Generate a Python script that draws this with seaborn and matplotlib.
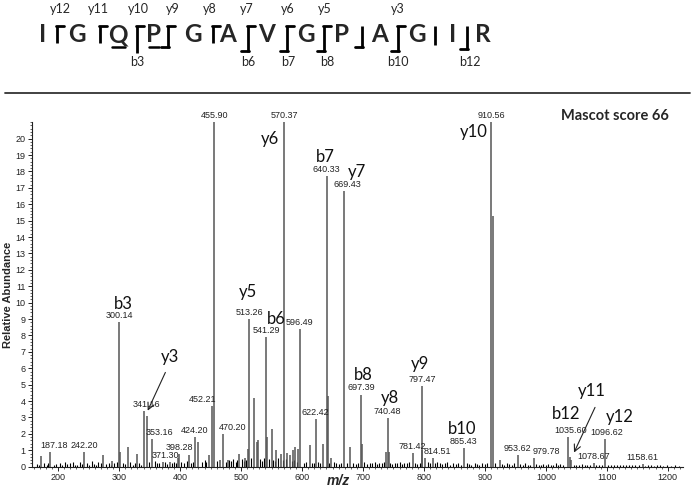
import numpy as np
import pandas as pd
import seaborn as sns
import matplotlib
matplotlib.use("Agg")
import matplotlib.pyplot as plt
from matplotlib.ticker import MultipleLocator

# ---------------- data ----------------
peak_mz = [172, 187.18, 242.20, 274, 289, 300.14, 302, 314.5, 329, 341.16, 345, 353.16,
           371.30, 383, 396, 398.28, 414, 424.20, 429, 447, 452.21, 455.90, 466, 470.20,
           478, 497, 506, 511.5, 513.26, 521.4, 525.8, 528, 541.29, 543, 550, 558, 565,
           570.37, 576, 580, 585, 589, 593, 596.49, 612.7, 622.42, 634.5, 640.33, 642,
           648, 669.43, 679.4, 697.39, 698.5, 737, 740.48, 742, 781.42, 796, 797.47, 802,
           814.51, 865.43, 910.56, 912.5, 924, 953.62, 979.78, 1035.60, 1039, 1042,
           1078.67, 1096.62, 1158.61]
peak_int = [0.65, 0.9, 0.9, 0.7, 0.35, 8.8, 0.9, 1.2, 0.8, 3.4, 3.1, 1.7,
            0.3, 0.3, 0.5, 0.75, 0.7, 1.8, 1.5, 0.7, 3.7, 21.0, 0.4, 2.0,
            0.4, 0.8, 0.5, 1.1, 9.0, 4.2, 1.5, 1.6, 7.9, 1.8, 2.3, 1.0, 0.8,
            21.0, 0.85, 0.7, 1.0, 1.2, 1.1, 8.4, 1.3, 2.9, 1.4, 17.7, 4.3,
            0.5, 16.8, 1.2, 4.4, 1.4, 0.9, 2.95, 0.9, 0.85, 1.0, 4.9, 0.5,
            0.5, 1.16, 21.0, 15.3, 0.4, 0.7, 0.5, 1.83, 0.6, 0.4,
            0.2, 1.67, 0.15]

noise_mz = [165, 168, 176, 181, 184, 193, 196, 203, 207, 211, 215, 219, 224, 228, 231,
            236, 239, 247, 251, 255, 258, 262, 266, 270, 279, 283, 286, 292, 296, 306,
            309, 318, 322, 326, 333, 336, 349, 358, 362, 366, 375, 379, 386, 390, 393,
            401, 407, 411, 418, 421, 436, 440, 443, 461, 476, 480, 484, 487, 491, 494,
            501, 504, 508, 517, 531, 535, 538, 546, 553, 556, 561, 568, 573, 583, 587,
            591, 603, 607, 616, 619, 627, 630, 644, 652, 656, 660, 664, 674, 684, 688,
            691, 702, 706, 711, 714, 719, 723, 727, 731, 735, 744, 748, 752, 756, 760,
            764, 768, 772, 776, 785, 789, 793, 806, 810, 818, 822, 826, 830, 834, 838,
            843, 848, 852, 856, 860, 870, 874, 878, 883, 887, 891, 895, 900, 904, 916,
            928, 932, 936, 940, 944, 948, 958, 962, 966, 970, 974, 984, 988, 992, 996,
            1000, 1004, 1008, 1012, 1016, 1020, 1024, 1028, 1046, 1050, 1055, 1060, 1064,
            1068, 1072, 1083, 1088, 1092, 1102, 1107, 1112, 1117, 1122, 1127, 1132, 1137,
            1142, 1147, 1152, 1163, 1168, 1173, 1178, 1183, 1188, 1193, 1198, 1205, 1212,
            1218]
noise_int = [0.15, 0.1, 0.2, 0.12, 0.25, 0.1, 0.18, 0.22, 0.1, 0.3, 0.15, 0.2, 0.28, 0.12, 0.1,
             0.3, 0.15, 0.2, 0.1, 0.35, 0.18, 0.12, 0.3, 0.2, 0.15, 0.25, 0.12, 0.2, 0.3, 0.25,
             0.15, 0.3, 0.12, 0.2, 0.25, 0.1, 0.3, 0.35, 0.2, 0.25, 0.3, 0.15, 0.25, 0.3, 0.2,
             0.3, 0.2, 0.35, 0.25, 0.3, 0.3, 0.4, 0.3, 0.35, 0.3, 0.4, 0.35, 0.45, 0.3, 0.4,
             0.45, 0.35, 0.4, 0.5, 0.45, 0.35, 0.5, 0.45, 0.4, 0.35, 0.5, 0.4, 0.45, 0.35, 0.4,
             0.3, 0.25, 0.3, 0.2, 0.25, 0.3, 0.2, 0.25, 0.3, 0.2, 0.15, 0.25, 0.2, 0.25, 0.15,
             0.2, 0.3, 0.15, 0.25, 0.2, 0.3, 0.15, 0.2, 0.25, 0.3, 0.2, 0.15, 0.25, 0.2, 0.3,
             0.15, 0.2, 0.25, 0.3, 0.2, 0.15, 0.25, 0.3, 0.2, 0.25, 0.3, 0.2, 0.15, 0.25, 0.3,
             0.1, 0.2, 0.15, 0.25, 0.1, 0.2, 0.15, 0.1, 0.2, 0.15, 0.1, 0.2, 0.15, 0.2, 0.25,
             0.15, 0.1, 0.2, 0.15, 0.1, 0.2, 0.15, 0.1, 0.2, 0.12, 0.1, 0.18, 0.12, 0.1, 0.15,
             0.1, 0.18, 0.1, 0.12, 0.2, 0.1, 0.15, 0.12, 0.1, 0.12, 0.1, 0.15, 0.1,
             0.08, 0.12, 0.1, 0.08, 0.12, 0.1, 0.08, 0.1, 0.12, 0.08, 0.1, 0.08, 0.1,
             0.08, 0.1, 0.08, 0.06, 0.1, 0.08, 0.06, 0.08, 0.1, 0.06, 0.08, 0.06, 0.08,
             0.06]

label_mz = [187.18, 242.20, 300.14, 341.16, 353.16, 371.30, 398.28, 424.20, 452.21, 455.90,
            470.20, 513.26, 541.29, 570.37, 596.49, 622.42, 640.33, 669.43, 697.39, 740.48,
            781.42, 797.47, 814.51, 865.43, 910.56, 953.62, 979.78, 1035.60, 1078.67,
            1096.62, 1158.61]
label_txt = ["187.18", "242.20", "300.14", "341.16", "353.16", "371.30", "398.28", "424.20",
             "452.21", "455.90", "470.20", "513.26", "541.29", "570.37", "596.49", "622.42",
             "640.33", "669.43", "697.39", "740.48", "781.42", "797.47", "814.51", "865.43",
             "910.56", "953.62", "979.78", "1035.60", "1078.67", "1096.62", "1158.61"]
# horizontal nudges (points) of a few peak labels, as in the reference
label_dx = {187.18: 3, 341.16: 1.5, 353.16: 6, 371.30: 2, 452.21: -7, 470.20: 7,
            814.51: 3, 979.78: 9, 1035.60: 2, 1096.62: 1.5, 669.43: 2}

ion_txt = ["b3", "y3", "y5", "b6", "y6", "b7", "y7", "y10", "b8", "y8", "y9", "b10",
           "b12", "y11", "y12"]
ion_mz = [306, 383, 511, 558, 547, 639, 690, 882, 701, 744, 793, 863, 1034, 1075, 1122]
ion_y = [9.93, 6.69, 10.66, 9.0, 20.0, 18.9, 17.98, 20.4, 5.6, 4.2, 6.27, 2.31, 3.2, 4.6, 3.03]

seq_letters = ["I", "G", "Q", "P", "G", "A", "V", "G", "P", "A", "G", "I", "R"]
top_ions = ["y12", "y11", "y10", "y9", "y8", "y7", "y6", "y5", "y3"]
bottom_ions = ["b3", "b6", "b7", "b8", "b10", "b12"]

# ---------------- style ----------------
sns.set_theme(style="ticks")
plt.rcParams["font.family"] = ["Liberation Sans", "DejaVu Sans"]

W, H = 697, 490
fig = plt.figure(figsize=(W / 100, H / 100), dpi=100)
ax = fig.add_axes([32 / W, 23.3 / H, (683 - 32) / W, (467 - 122.5) / H])

df_n = pd.DataFrame({"mz": noise_mz, "inten": noise_int})
df_p = pd.DataFrame({"mz": peak_mz, "inten": peak_int})
ax.vlines(df_n["mz"], 0, df_n["inten"], color="black", lw=0.8)
ax.vlines(df_p["mz"], 0, df_p["inten"], color="#555555", lw=1.1)

ax.set_xlim(157, 1225)
ax.set_ylim(0, 21)
ax.xaxis.set_minor_locator(MultipleLocator(10))
ax.yaxis.set_minor_locator(MultipleLocator(0.2))
ax.set_xticks(range(200, 1201, 100))
ax.set_yticks(range(0, 21))
ax.tick_params(which="major", direction="out", length=3, width=0.7, labelsize=6.5,
               pad=1.5, colors="#222222")
ax.tick_params(which="minor", direction="out", length=1.6, width=0.5, colors="#222222")
sns.despine(ax=ax)
for s in ["left", "bottom"]:
    ax.spines[s].set_linewidth(0.8)
    ax.spines[s].set_color("#222222")
ax.set_facecolor("none")
ax.set_ylabel("Relative Abundance", fontsize=8, fontweight="bold", labelpad=2)
ax.set_xlabel("")

pk = dict(zip(peak_mz, peak_int))
for m, t in zip(label_mz, label_txt):
    ax.annotate(t, (m, pk[m]), xytext=(label_dx.get(m, 0), 1.5), textcoords="offset points",
                ha="center", va="bottom", fontsize=6.5, color="#222222",
                annotation_clip=False)

for t, m, yv in zip(ion_txt, ion_mz, ion_y):
    ax.text(m, yv, t, ha="center", va="center", fontsize=12, family=["Lato", "DejaVu Sans"],
            color="#111111")

ax.annotate("", xy=(344.9, 3.26), xytext=(377.7, 5.9),
            arrowprops=dict(arrowstyle="->", lw=0.8, color="#222222"))
ax.annotate("", xy=(1044.3, 0.71), xytext=(1082.6, 3.77),
            arrowprops=dict(arrowstyle="->", lw=0.8, color="#222222"))

# ---------------- overlay (pixel coordinates) ----------------
ov = fig.add_axes([0, 0, 1, 1], zorder=5)
ov.set_xlim(0, W)
ov.set_ylim(H, 0)
ov.axis("off")
ov.patch.set_alpha(0)

ov.text(338, 481, "m/z", ha="center", va="center", fontsize=10, fontweight="bold",
        fontstyle="italic")
ov.text(615, 116, "Mascot score 66", ha="center", va="center", fontsize=10.5,
        fontweight="bold", family=["Lato", "DejaVu Sans"])
ov.plot([5, 690], [93.3, 93.3], color="#333333", lw=1.3)

letter_x = [42.7, 77, 118, 154, 193, 228, 267, 306, 342, 380, 417, 453, 483]
for ch, x in zip(seq_letters, letter_x):
    ov.text(x, 35, ch, ha="center", va="center", fontsize=17.5, fontweight="bold",
            family=["Lato", "DejaVu Sans"])
for x0, x1 in [(112, 125), (149, 159)]:
    ov.plot([x0, x1], [47, 47], color="black", lw=1.8)

marks = [(57, "T", 43), (100, "T", 43), (137, "T", 53), (168, "S", 48), (213, "T", 43),
         (248, "S", 52), (287, "S", 52), (324, "S", 52), (362, "B", 48), (398, "S", 52),
         (435, "I", 45), (467, "B", 50)]
for x, kind, ybot in marks:
    ov.plot([x, x], [26, ybot], color="black", lw=2.0, solid_capstyle="butt")
    if kind in ("T", "S"):
        ov.plot([x - 1, x + 7], [26.5, 26.5], color="black", lw=2.0)
    if kind in ("S", "B"):
        ov.plot([x - 7, x + 1], [ybot - 0.5, ybot - 0.5], color="black", lw=2.0)

top_x = [60, 98, 138, 173, 210, 247, 288, 325, 398]
for t, x in zip(top_ions, top_x):
    ov.text(x, 9, t, ha="center", va="center", fontsize=9, family=["Lato", "DejaVu Sans"])
bot_x = [137, 248, 288, 327, 398, 470]
for t, x in zip(bottom_ions, bot_x):
    ov.text(x, 62, t, ha="center", va="center", fontsize=9, family=["Lato", "DejaVu Sans"])

fig.savefig("out.png", dpi=100, facecolor="white")
